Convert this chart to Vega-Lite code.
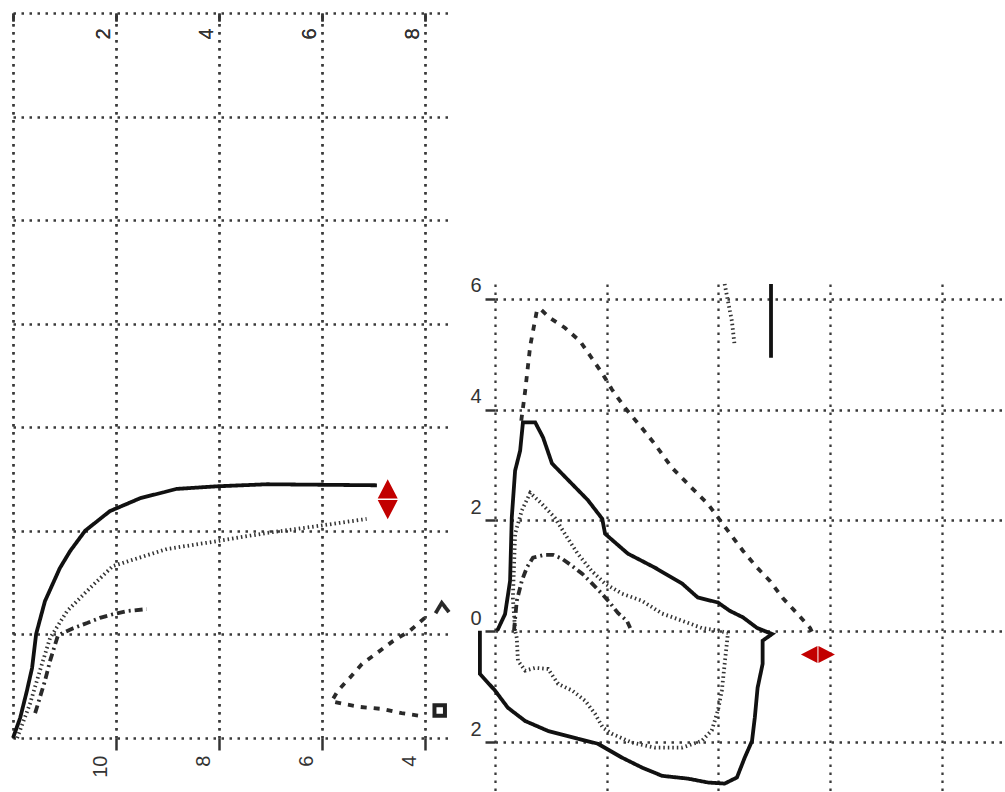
{
 "$schema": "https://vega.github.io/schema/vega-lite/v6.json",
 "background": "white",
 "padding": {"left": 1, "top": 11, "right": 0, "bottom": 0},
 "bounds": "flush",
 "spacing": 45,
 "config": {
  "view": {"stroke": null},
  "font": "Liberation Sans",
  "axis": {"labelFont": "Liberation Sans", "labelFontSize": 20, "labelColor": "#333", "tickColor": "#333", "tickWidth": 2.5, "gridColor": "#3a3a3a", "gridDash": [2.5, 5.5], "gridWidth": 2.3, "gridOpacity": 1, "domain": false, "title": null, "labelFlush": false, "labelOverlap": false, "minExtent": 0}
 },
 "datasets": {
  "leftLines": [
   {"s":"s1","i":0,"x":0,"y":0},{"s":"s1","i":1,"x":0.14,"y":0.39},{"s":"s1","i":2,"x":0.27,"y":0.91},{"s":"s1","i":3,"x":0.37,"y":1.35},{"s":"s1","i":4,"x":0.45,"y":2.01},{"s":"s1","i":5,"x":0.62,"y":2.64},{"s":"s1","i":6,"x":0.91,"y":3.28},{"s":"s1","i":7,"x":1.11,"y":3.61},{"s":"s1","i":8,"x":1.40,"y":4.00},{"s":"s1","i":9,"x":1.88,"y":4.38},{"s":"s1","i":10,"x":2.47,"y":4.63},{"s":"s1","i":11,"x":3.18,"y":4.81},{"s":"s1","i":12,"x":3.96,"y":4.86},{"s":"s1","i":13,"x":4.93,"y":4.90},{"s":"s1","i":14,"x":7.07,"y":4.88},
   {"s":"s2","i":0,"x":0.08,"y":0},{"s":"s2","i":1,"x":0.33,"y":0.66},{"s":"s2","i":2,"x":0.52,"y":1.29},{"s":"s2","i":3,"x":0.72,"y":1.93},{"s":"s2","i":4,"x":1.05,"y":2.45},{"s":"s2","i":5,"x":1.50,"y":2.90},{"s":"s2","i":6,"x":1.94,"y":3.32},{"s":"s2","i":7,"x":2.99,"y":3.65},{"s":"s2","i":8,"x":3.96,"y":3.80},{"s":"s2","i":9,"x":4.93,"y":3.96},{"s":"s2","i":10,"x":5.90,"y":4.09},{"s":"s2","i":11,"x":6.87,"y":4.23},
   {"s":"s3","i":0,"x":0.43,"y":0.48},{"s":"s3","i":1,"x":0.62,"y":1.10},{"s":"s3","i":2,"x":0.72,"y":1.49},{"s":"s3","i":3,"x":0.82,"y":1.81},{"s":"s3","i":4,"x":0.87,"y":1.97},{"s":"s3","i":5,"x":0.97,"y":2.03},{"s":"s3","i":6,"x":1.17,"y":2.12},{"s":"s3","i":7,"x":1.44,"y":2.22},{"s":"s3","i":8,"x":1.69,"y":2.32},{"s":"s3","i":9,"x":1.94,"y":2.39},{"s":"s3","i":10,"x":2.21,"y":2.45},{"s":"s3","i":11,"x":2.60,"y":2.49},
   {"s":"s4","i":0,"x":8.00,"y":2.32},{"s":"s4","i":1,"x":7.71,"y":2.07},{"s":"s4","i":2,"x":7.38,"y":1.87},{"s":"s4","i":3,"x":7.07,"y":1.64},{"s":"s4","i":4,"x":6.78,"y":1.43},{"s":"s4","i":5,"x":6.54,"y":1.16},{"s":"s4","i":6,"x":6.31,"y":0.91},{"s":"s4","i":7,"x":6.19,"y":0.71},{"s":"s4","i":8,"x":6.41,"y":0.66},{"s":"s4","i":9,"x":6.74,"y":0.60},{"s":"s4","i":10,"x":7.18,"y":0.56},{"s":"s4","i":11,"x":7.55,"y":0.48},{"s":"s4","i":12,"x":7.96,"y":0.42},
   {"s":"s5","i":0,"x":8.21,"y":2.41},{"s":"s5","i":1,"x":8.33,"y":2.61},{"s":"s5","i":2,"x":8.47,"y":2.43}
  ],
  "leftArrow": [{"x":7.28,"y":4.61}],
  "leftSquare": [{"x":8.29,"y":0.53}],
  "rightLines": [
   {"s":"s1","i":0,"x":0.04,"y":0.01},{"s":"s1","i":1,"x":0.18,"y":0.31},{"s":"s1","i":2,"x":0.27,"y":0.91},{"s":"s1","i":3,"x":0.30,"y":2.05},{"s":"s1","i":4,"x":0.36,"y":2.90},{"s":"s1","i":5,"x":0.45,"y":3.26},{"s":"s1","i":6,"x":0.50,"y":3.77},{"s":"s1","i":7,"x":0.72,"y":3.77},{"s":"s1","i":8,"x":0.86,"y":3.50},{"s":"s1","i":9,"x":1.02,"y":3.03},{"s":"s1","i":10,"x":1.31,"y":2.73},{"s":"s1","i":11,"x":1.66,"y":2.37},{"s":"s1","i":12,"x":1.92,"y":2.03},{"s":"s1","i":13,"x":1.97,"y":1.76},{"s":"s1","i":14,"x":2.38,"y":1.40},{"s":"s1","i":15,"x":2.86,"y":1.15},{"s":"s1","i":16,"x":3.35,"y":0.86},{"s":"s1","i":17,"x":3.63,"y":0.61},{"s":"s1","i":18,"x":3.99,"y":0.52},{"s":"s1","i":19,"x":4.20,"y":0.37},{"s":"s1","i":20,"x":4.44,"y":0.25},{"s":"s1","i":21,"x":4.69,"y":0.06},{"s":"s1","i":22,"x":4.96,"y":-0.05},{"s":"s1","i":23,"x":4.79,"y":-0.17},{"s":"s1","i":24,"x":4.79,"y":-0.59},{"s":"s1","i":25,"x":4.70,"y":-1.02},{"s":"s1","i":26,"x":4.65,"y":-1.56},{"s":"s1","i":27,"x":4.60,"y":-1.98},{"s":"s1","i":28,"x":4.47,"y":-2.28},{"s":"s1","i":29,"x":4.33,"y":-2.64},{"s":"s1","i":30,"x":4.11,"y":-2.75},{"s":"s1","i":31,"x":3.81,"y":-2.73},{"s":"s1","i":32,"x":3.45,"y":-2.66},{"s":"s1","i":33,"x":2.99,"y":-2.61},{"s":"s1","i":34,"x":2.63,"y":-2.46},{"s":"s1","i":35,"x":2.27,"y":-2.28},{"s":"s1","i":36,"x":1.84,"y":-2.03},{"s":"s1","i":37,"x":1.48,"y":-1.94},{"s":"s1","i":38,"x":0.95,"y":-1.80},{"s":"s1","i":39,"x":0.54,"y":-1.62},{"s":"s1","i":40,"x":0.23,"y":-1.38},{"s":"s1","i":41,"x":0.00,"y":-1.07},{"s":"s1","i":42,"x":-0.27,"y":-0.77},{"s":"s1","i":43,"x":-0.27,"y":0.01},
   {"s":"s1b","i":0,"x":4.94,"y":6.27},{"s":"s1b","i":1,"x":4.94,"y":4.94},
   {"s":"s2","i":0,"x":0.36,"y":0.01},{"s":"s2","i":1,"x":0.32,"y":0.60},{"s":"s2","i":2,"x":0.36,"y":1.76},{"s":"s2","i":3,"x":0.48,"y":2.18},{"s":"s2","i":4,"x":0.63,"y":2.50},{"s":"s2","i":5,"x":0.84,"y":2.30},{"s":"s2","i":6,"x":1.07,"y":2.05},{"s":"s2","i":7,"x":1.25,"y":1.76},{"s":"s2","i":8,"x":1.48,"y":1.40},{"s":"s2","i":9,"x":1.73,"y":1.09},{"s":"s2","i":10,"x":1.97,"y":0.86},{"s":"s2","i":11,"x":2.27,"y":0.68},{"s":"s2","i":12,"x":2.63,"y":0.55},{"s":"s2","i":13,"x":2.99,"y":0.32},{"s":"s2","i":14,"x":3.35,"y":0.19},{"s":"s2","i":15,"x":3.70,"y":0.06},{"s":"s2","i":16,"x":3.99,"y":0.01},{"s":"s2","i":17,"x":4.17,"y":-0.03},{"s":"s2","i":18,"x":4.11,"y":-0.59},{"s":"s2","i":19,"x":4.06,"y":-1.07},{"s":"s2","i":20,"x":3.99,"y":-1.43},{"s":"s2","i":21,"x":3.88,"y":-1.79},{"s":"s2","i":22,"x":3.70,"y":-1.98},{"s":"s2","i":23,"x":3.35,"y":-2.10},{"s":"s2","i":24,"x":2.86,"y":-2.10},{"s":"s2","i":25,"x":2.45,"y":-2.01},{"s":"s2","i":26,"x":2.09,"y":-1.85},{"s":"s2","i":27,"x":1.93,"y":-1.74},{"s":"s2","i":28,"x":1.79,"y":-1.49},{"s":"s2","i":29,"x":1.61,"y":-1.25},{"s":"s2","i":30,"x":1.38,"y":-1.07},{"s":"s2","i":31,"x":1.13,"y":-0.95},{"s":"s2","i":32,"x":0.95,"y":-0.68},{"s":"s2","i":33,"x":0.72,"y":-0.66},{"s":"s2","i":34,"x":0.54,"y":-0.71},{"s":"s2","i":35,"x":0.41,"y":-0.53},{"s":"s2","i":36,"x":0.39,"y":-0.12},{"s":"s2","i":37,"x":0.36,"y":0.01},
   {"s":"s2b","i":0,"x":4.11,"y":6.27},{"s":"s2b","i":1,"x":4.17,"y":5.96},{"s":"s2b","i":2,"x":4.24,"y":5.60},{"s":"s2b","i":3,"x":4.29,"y":5.15},
   {"s":"s3","i":0,"x":0.34,"y":0.01},{"s":"s3","i":1,"x":0.39,"y":0.55},{"s":"s3","i":2,"x":0.48,"y":0.91},{"s":"s3","i":3,"x":0.57,"y":1.15},{"s":"s3","i":4,"x":0.68,"y":1.33},{"s":"s3","i":5,"x":0.89,"y":1.38},{"s":"s3","i":6,"x":1.04,"y":1.38},{"s":"s3","i":7,"x":1.20,"y":1.31},{"s":"s3","i":8,"x":1.38,"y":1.18},{"s":"s3","i":9,"x":1.56,"y":1.04},{"s":"s3","i":10,"x":1.74,"y":0.86},{"s":"s3","i":11,"x":1.91,"y":0.68},{"s":"s3","i":12,"x":2.06,"y":0.51},{"s":"s3","i":13,"x":2.20,"y":0.33},{"s":"s3","i":14,"x":2.36,"y":0.19},{"s":"s3","i":15,"x":2.42,"y":0.06},
   {"s":"s4","i":0,"x":0.47,"y":3.80},{"s":"s4","i":1,"x":0.54,"y":4.34},{"s":"s4","i":2,"x":0.63,"y":5.15},{"s":"s4","i":3,"x":0.75,"y":5.79},{"s":"s4","i":4,"x":0.81,"y":5.82},{"s":"s4","i":5,"x":0.98,"y":5.66},{"s":"s4","i":6,"x":1.25,"y":5.48},{"s":"s4","i":7,"x":1.52,"y":5.24},{"s":"s4","i":8,"x":1.74,"y":4.92},{"s":"s4","i":9,"x":1.93,"y":4.64},{"s":"s4","i":10,"x":2.09,"y":4.37},{"s":"s4","i":11,"x":2.33,"y":4.03},{"s":"s4","i":12,"x":2.63,"y":3.67},{"s":"s4","i":13,"x":2.86,"y":3.38},{"s":"s4","i":14,"x":3.17,"y":2.95},{"s":"s4","i":15,"x":3.52,"y":2.59},{"s":"s4","i":16,"x":3.81,"y":2.30},{"s":"s4","i":17,"x":4.26,"y":1.69},{"s":"s4","i":18,"x":4.44,"y":1.45},{"s":"s4","i":19,"x":4.69,"y":1.15},{"s":"s4","i":20,"x":4.92,"y":0.91},{"s":"s4","i":21,"x":5.15,"y":0.60},{"s":"s4","i":22,"x":5.40,"y":0.33},{"s":"s4","i":23,"x":5.64,"y":0.06},{"s":"s4","i":24,"x":5.69,"y":-0.05}
  ],
  "rightArrow": [{"x":5.78,"y":-0.42}]
 },
 "hconcat": [
  {
   "width": 437,
   "height": 725,
   "encoding": {
    "x": {"field": "x", "type": "quantitative", "scale": {"domain": [0, 8.49], "nice": false, "zero": false},
          "axis": {"orient": "top", "values": [0, 2, 4, 6, 8], "labelExpr": "datum.value == 0 ? '' : datum.label", "labelFontSize": {"condition": {"test": "datum.value == 0", "value": 0}, "value": 20}, "labelAngle": 270, "labelAlign": "left", "labelBaseline": "middle", "labelPadding": -26, "labelOffset": -12, "offset": -8, "tickSize": 8, "grid": true}},
    "y": {"field": "y", "type": "quantitative", "scale": {"domain": [0, 14], "nice": false, "zero": false},
          "axis": {"values": [0, 2, 4, 6, 8, 10, 12, 14], "labels": false, "ticks": false, "grid": true}}
   },
   "layer": [
    {
     "data": {"name": "leftLines"},
     "mark": {"type": "line"},
     "encoding": {
      "order": {"field": "i", "type": "quantitative"},
      "strokeDash": {"field": "s", "type": "nominal", "legend": null, "scale": {"domain": ["s1", "s1b", "s2", "s2b", "s3", "s4", "s5"], "range": [[1, 0], [1, 0], [1.5, 3], [1.5, 3], [8, 4, 2, 4], [6, 7], [1, 0]]}},
      "strokeWidth": {"field": "s", "type": "ordinal", "legend": null, "scale": {"domain": ["s1", "s1b", "s2", "s2b", "s3", "s4", "s5"], "range": [3.8, 3.8, 1.8, 1.8, 2.2, 2.2, 2]}},
      "color": {"field": "s", "type": "nominal", "legend": null, "scale": {"domain": ["s1", "s1b", "s2", "s2b", "s3", "s4", "s5"], "range": ["#111111", "#111111", "#333333", "#333333", "#2a2a2a", "#2a2a2a", "#2a2a2a"]}}
     }
    },
    {
     "data": {"name": "leftArrow"},
     "mark": {"type": "point", "shape": "M0,-1L0.5,-0.04L-0.5,-0.04Z M-0.5,0.04L0.5,0.04L0,1Z", "filled": true, "fill": "#c20000", "strokeWidth": 0, "opacity": 1, "size": 1600},
     "encoding": {
      "x": {"field": "x", "type": "quantitative",
            "axis": {"orient": "bottom", "values": [2, 4, 6, 8], "labelExpr": "'' + (12 - datum.value)", "labelAngle": 270, "labelAlign": "right", "labelBaseline": "middle", "labelPadding": 5, "labelOffset": -15, "tickSize": 12, "grid": false}}
     }
    },
    {
     "data": {"name": "leftSquare"},
     "mark": {"type": "point", "shape": "square", "filled": false, "stroke": "#222", "strokeWidth": 4, "opacity": 1, "size": 110}
    }
   ],
   "resolve": {"axis": {"x": "independent"}}
  },
  {
   "bounds": "flush",
   "spacing": 0,
   "vconcat": [
    {
     "width": 510,
     "height": 271,
     "data": {"values": [{"v": 0}]},
     "mark": {"type": "point", "opacity": 0},
     "encoding": {}
    },
    {
     "width": 510,
     "height": 509,
     "encoding": {
      "x": {"field": "x", "type": "quantitative", "scale": {"domain": [0, 9.128], "nice": false, "zero": false},
            "axis": {"values": [0, 2, 4, 6, 8], "labels": false, "ticks": false, "grid": true}},
      "y": {"field": "y", "type": "quantitative", "scale": {"domain": [-2.92, 6.27], "nice": false, "zero": false},
            "axis": {"values": [-2, 0, 2, 4, 6], "labelExpr": "'' + abs(datum.value)", "tickSize": 10, "labelPadding": 4, "labelOffset": -13, "grid": true}}
     },
     "layer": [
      {
       "data": {"name": "rightLines"},
       "mark": {"type": "line"},
       "encoding": {
        "order": {"field": "i", "type": "quantitative"},
        "strokeDash": {"field": "s", "type": "nominal", "legend": null, "scale": {"domain": ["s1", "s1b", "s2", "s2b", "s3", "s4", "s5"], "range": [[1, 0], [1, 0], [1.5, 3], [1.5, 3], [8, 4, 2, 4], [6, 7], [1, 0]]}},
        "strokeWidth": {"field": "s", "type": "ordinal", "legend": null, "scale": {"domain": ["s1", "s1b", "s2", "s2b", "s3", "s4", "s5"], "range": [3.8, 3.8, 1.8, 1.8, 2.2, 2.2, 2]}},
        "color": {"field": "s", "type": "nominal", "legend": null, "scale": {"domain": ["s1", "s1b", "s2", "s2b", "s3", "s4", "s5"], "range": ["#111111", "#111111", "#333333", "#333333", "#2a2a2a", "#2a2a2a", "#2a2a2a"]}}
       }
      },
      {
       "data": {"name": "rightArrow"},
       "mark": {"type": "point", "shape": "M-1,0L-0.03,-0.5L-0.03,0.5Z M0.03,-0.5L1,0L0.03,0.5Z", "filled": true, "fill": "#c20000", "strokeWidth": 0, "opacity": 1, "size": 1156}
      }
     ]
    }
   ]
  }
 ]
}
